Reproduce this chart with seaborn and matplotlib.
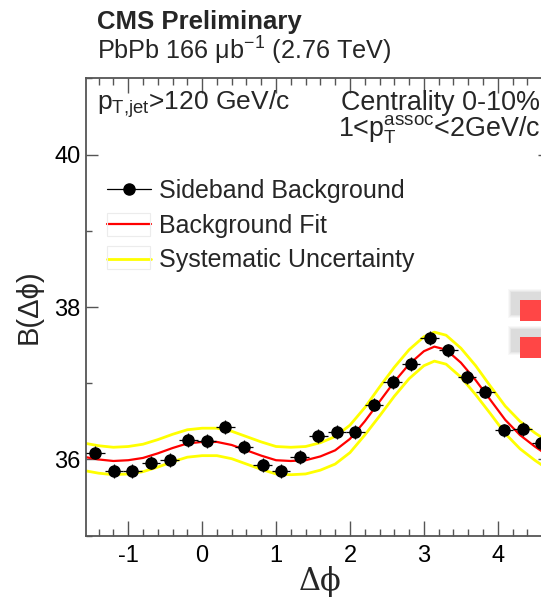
import numpy as np
import pandas as pd
import matplotlib
matplotlib.use("Agg")
import matplotlib.pyplot as plt
import seaborn as sns
from matplotlib.patches import Rectangle
from matplotlib.lines import Line2D
from matplotlib.ticker import MultipleLocator

# ---------------- data ----------------
dphi_centers = [-1.445, -1.194, -0.942, -0.691, -0.440, -0.188, 0.063, 0.314,
                0.565, 0.817, 1.068, 1.319, 1.571, 1.822, 2.073, 2.325, 2.576,
                2.827, 3.079, 3.330, 3.581, 3.833, 4.084, 4.335, 4.587]
sideband = [36.09, 35.85, 35.85, 35.96, 35.99, 36.26, 36.24, 36.43,
            36.16, 35.93, 35.85, 36.03, 36.31, 36.36, 36.36, 36.72, 37.02,
            37.25, 37.59, 37.43, 37.08, 36.89, 36.38, 36.40, 36.22]
sideband_yerr = [0.09, 0.09, 0.09, 0.09, 0.09, 0.09, 0.09, 0.09,
                 0.09, 0.09, 0.09, 0.09, 0.09, 0.09, 0.09, 0.09, 0.09,
                 0.09, 0.09, 0.09, 0.09, 0.09, 0.09, 0.09, 0.09]
bin_halfwidth = [0.126, 0.126, 0.126, 0.126, 0.126, 0.126, 0.126, 0.126,
                 0.126, 0.126, 0.126, 0.126, 0.126, 0.126, 0.126, 0.126, 0.126,
                 0.126, 0.126, 0.126, 0.126, 0.126, 0.126, 0.126, 0.126]

fit_x = [-1.571, -1.4, -1.2, -1.0, -0.8, -0.6, -0.4, -0.2, 0.0, 0.2, 0.4, 0.6,
         0.8, 1.0, 1.2, 1.4, 1.6, 1.8, 2.0, 2.2, 2.4, 2.6, 2.8, 3.0, 3.142,
         3.3, 3.5, 3.7, 3.9, 4.1, 4.3, 4.5, 4.712]
fit_y = [36.03, 36.00, 35.98, 35.99, 36.02, 36.08, 36.15, 36.21, 36.23, 36.23,
         36.19, 36.12, 36.05, 35.99, 35.98, 35.99, 36.04, 36.12, 36.27, 36.50,
         36.76, 37.02, 37.25, 37.42, 37.48, 37.44, 37.27, 37.04, 36.78, 36.52,
         36.32, 36.17, 36.03]
syst_up = [36.21, 36.18, 36.16, 36.17, 36.20, 36.26, 36.33, 36.39, 36.41, 36.41,
           36.37, 36.30, 36.23, 36.17, 36.16, 36.17, 36.22, 36.30, 36.45, 36.68,
           36.95, 37.21, 37.44, 37.61, 37.67, 37.63, 37.46, 37.23, 36.96, 36.70,
           36.50, 36.35, 36.21]
syst_down = [35.85, 35.82, 35.80, 35.81, 35.84, 35.90, 35.97, 36.03, 36.05, 36.05,
             36.01, 35.94, 35.87, 35.81, 35.80, 35.81, 35.86, 35.94, 36.09, 36.32,
             36.57, 36.83, 37.06, 37.23, 37.29, 37.25, 37.08, 36.85, 36.60, 36.34,
             36.14, 35.99, 35.85]

x_major_ticks = [-1, 0, 1, 2, 3, 4]
y_major_ticks = [36, 38, 40]

legend_labels = ["Sideband Background", "Background Fit", "Systematic Uncertainty"]

# ---------------- style ----------------
W, H = 541, 599
sns.set_theme(style="ticks")
plt.rcParams['font.family'] = ['Liberation Sans', 'DejaVu Sans']
plt.rcParams['mathtext.fontset'] = 'custom'
plt.rcParams['mathtext.rm'] = 'Liberation Sans'
plt.rcParams['mathtext.it'] = 'Liberation Sans'
plt.rcParams['mathtext.default'] = 'regular'

AX_COL = '#555555'

fig = plt.figure(figsize=(W / 100, H / 100), dpi=100)
fig.patch.set_facecolor('white')

def fx(px):
    return px / W

def fy(py):
    return 1 - py / H

ax_l, ax_r, ax_t, ax_b = 86, 550.5, 78.3, 535.7
ax = fig.add_axes([fx(ax_l), fy(ax_b), (ax_r - ax_l) / W, (ax_b - ax_t) / H])
ax.set_facecolor('white')

fit_df = pd.DataFrame({"dphi": fit_x, "fit": fit_y, "up": syst_up, "down": syst_down})

sns.lineplot(data=fit_df, x="dphi", y="up", color='#ffff00', lw=2.0,
             sort=False, estimator=None, ax=ax, legend=False)
sns.lineplot(data=fit_df, x="dphi", y="down", color='#ffff00', lw=2.0,
             sort=False, estimator=None, ax=ax, legend=False)
sns.lineplot(data=fit_df, x="dphi", y="fit", color='#ff0000', lw=1.6,
             sort=False, estimator=None, ax=ax, legend=False)

ax.errorbar(dphi_centers, sideband, yerr=sideband_yerr, xerr=bin_halfwidth,
            fmt='o', color='black', ms=8, elinewidth=0.9, capsize=0, zorder=5)

ax.set_xlim(-np.pi / 2, 3 * np.pi / 2)
ax.set_ylim(35, 41)
ax.set_xticks(x_major_ticks)
ax.set_xticklabels([str(t) for t in x_major_ticks])
ax.set_yticks(y_major_ticks)
ax.set_yticklabels([str(t) for t in y_major_ticks])
ax.xaxis.set_minor_locator(MultipleLocator(0.2))
ax.yaxis.set_minor_locator(MultipleLocator(1))

ax.tick_params(which='both', direction='in', top=True, right=True,
               colors=AX_COL, labelcolor='black', labelsize=17, width=1.0)
ax.tick_params(axis='x', which='major', length=10.8, pad=7)
ax.tick_params(axis='x', which='minor', length=5.2)
ax.tick_params(axis='y', which='major', length=8.6, pad=4)
ax.tick_params(axis='y', which='minor', length=4.3)
for sp in ax.spines.values():
    sp.set_color(AX_COL)
    sp.set_linewidth(1.3)

ax.set_xlabel("Δϕ", fontsize=22, fontfamily=['DejaVu Serif'])
ax.xaxis.set_label_coords((320 - ax_l) / (ax_r - ax_l), (ax_b - 566) / (ax_b - ax_t))
ax.set_ylabel("B(Δϕ)", fontsize=21)
ax.yaxis.label.set_va('center')
ax.yaxis.set_label_coords((29 - ax_l) / (ax_r - ax_l), (ax_b - 307) / (ax_b - ax_t))

# legend
h_data = Line2D([], [], color='black', marker='o', ms=8, lw=0.9)
h_fit = Line2D([], [], color='#ff0000', lw=1.6)
h_sys = Line2D([], [], color='#ffff00', lw=2.0)
leg = ax.legend([h_data, h_fit, h_sys], legend_labels, loc='upper left',
                bbox_to_anchor=(fx(107), fy(179)), bbox_transform=fig.transFigure,
                frameon=False, fontsize=18, handlelength=1.75, handletextpad=0.32,
                labelspacing=0.43, borderaxespad=0, borderpad=0)
# faint boxes around the line samples of the two curve entries
for cy in (224, 257.5):
    fig.add_artist(Rectangle((fx(107), fy(cy + 11.5)), 43 / W, 23 / H,
                             transform=fig.transFigure, facecolor='none',
                             edgecolor='#ececec', lw=0.8))

# header texts
fig.text(fx(97), fy(22.5), "CMS Preliminary", fontsize=18.5, weight='bold', va='center')
fig.text(fx(97), fy(51), "PbPb 166 μb$^{-1}$ (2.76 TeV)", fontsize=18.2, va='center')
fig.text(fx(97), fy(110), "p$_{T{,}jet}$>120 GeV/c", fontsize=19, va='baseline')
fig.text(fx(540), fy(110), "Centrality 0-10%", fontsize=19.4, va='baseline', ha='right')
fig.text(fx(540), fy(137), "1<p$_{T}^{assoc}$<2GeV/c", fontsize=19.4, va='baseline', ha='right')

# red boxes at the right edge (with soft shadow)
for top in (300, 337):
    for k, a in enumerate([0.05, 0.06, 0.07, 0.09]):
        g = 4 - k
        fig.add_artist(Rectangle((fx(512 - g), fy(top - 7 + 21 + g)), (32 + 2 * g) / W, (21 + 2 * g) / H,
                                 transform=fig.transFigure, facecolor='#777777', edgecolor='none', alpha=a))
    fig.add_artist(Rectangle((fx(520), fy(top + 21)), 30 / W, 21 / H,
                             transform=fig.transFigure, facecolor='#ff4646', edgecolor='none'))

fig.savefig("out.png", dpi=100)
